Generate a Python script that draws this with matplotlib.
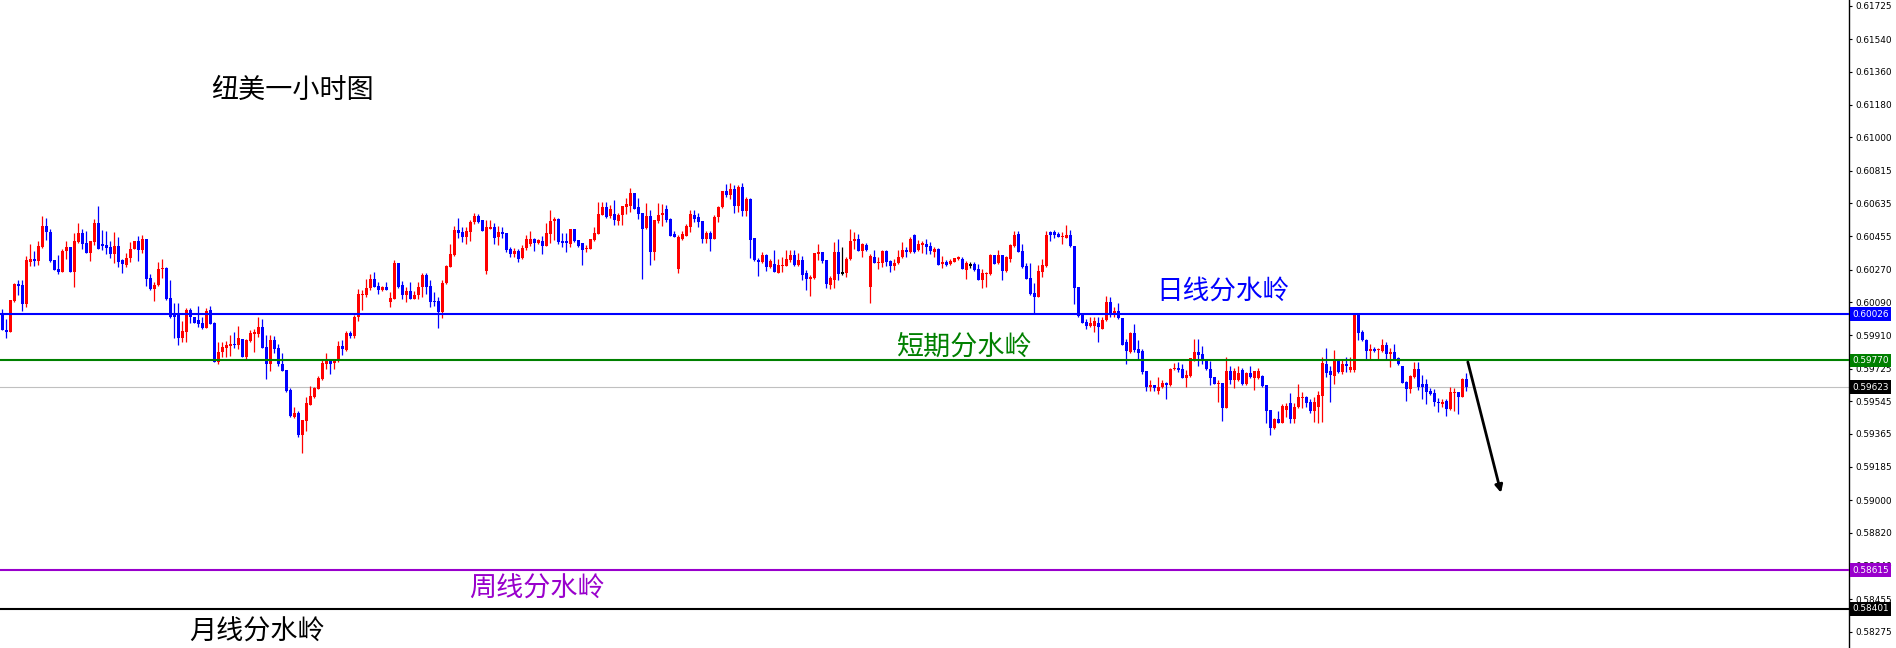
import numpy as np
import matplotlib
matplotlib.use("Agg")
import matplotlib.pyplot as plt

# === Data: NZDUSD H1 candles, prices in points (1e-5) ===

opens = [
    60032, 59938, 59927, 60098, 60192, 60186, 60081, 60313, 60329, 60318,
    60395, 60511, 60478, 60324, 60274, 60258, 60373, 60395, 60258, 60423,
    60472, 60417, 60362, 60423, 60527, 60412, 60406, 60395, 60357, 60401,
    60324, 60296, 60335, 60384, 60428, 60379, 60439, 60225, 60164, 60186,
    60274, 60280, 60115, 60021, 60021, 59894, 59927, 60048, 60010, 59993,
    59977, 59949, 60048, 59977, 59762, 59817, 59839, 59850, 59861, 59856,
    59889, 59790, 59878, 59916, 59916, 59955, 59845, 59751, 59883, 59839,
    59751, 59718, 59608, 59459, 59481, 59360, 59437, 59525, 59570, 59614,
    59669, 59751, 59773, 59757, 59773, 59850, 59828, 59922, 59905, 60010,
    60131, 60131, 60170, 60219, 60181, 60159, 60175, 60092, 60109, 60307,
    60186, 60131, 60153, 60109, 60131, 60175, 60241, 60181, 60098, 60098,
    60037, 60197, 60285, 60351, 60489, 60478, 60450, 60478, 60533, 60566,
    60544, 60263, 60494, 60505, 60450, 60478, 60472, 60384, 60357, 60373,
    60335, 60390, 60412, 60439, 60417, 60428, 60401, 60467, 60538, 60549,
    60428, 60428, 60412, 60494, 60434, 60417, 60384, 60384, 60434, 60467,
    60571, 60615, 60566, 60577, 60538, 60571, 60615, 60621, 60693, 60615,
    60582, 60500, 60566, 60368, 60538, 60571, 60604, 60549, 60467, 60274,
    60439, 60456, 60505, 60571, 60560, 60538, 60439, 60472, 60439, 60560,
    60615, 60704, 60682, 60715, 60621, 60726, 60593, 60660, 60445, 60324,
    60313, 60351, 60285, 60302, 60252, 60291, 60291, 60324, 60351, 60296,
    60324, 60252, 60219, 60225, 60357, 60368, 60324, 60186, 60214, 60368,
    60252, 60252, 60329, 60428, 60439, 60373, 60406, 60175, 60340, 60307,
    60307, 60373, 60318, 60291, 60307, 60340, 60379, 60368, 60461, 60379,
    60406, 60412, 60401, 60368, 60384, 60302, 60313, 60302, 60313, 60329,
    60329, 60269, 60296, 60302, 60274, 60214, 60247, 60247, 60351, 60307,
    60351, 60263, 60329, 60401, 60467, 60373, 60291, 60225, 60142, 60120,
    60258, 60291, 60478, 60478, 60467, 60450, 60445, 60461, 60401, 60175,
    60021, 59982, 59960, 59960, 59977, 59944, 59993, 60092, 60032, 60043,
    60004, 59872, 59817, 59922, 59834, 59823, 59713, 59625, 59636, 59603,
    59625, 59647, 59636, 59724, 59729, 59724, 59674, 59685, 59773, 59817,
    59806, 59773, 59724, 59680, 59641, 59647, 59508, 59713, 59663, 59663,
    59718, 59641, 59702, 59674, 59674, 59685, 59636, 59497, 59398, 59448,
    59426, 59497, 59536, 59448, 59514, 59564, 59570, 59541, 59492, 59514,
    59575, 59751, 59713, 59685, 59773, 59707, 59751, 59718, 59718, 60026,
    59927, 59883, 59823, 59834, 59828, 59823, 59856, 59806, 59817, 59784,
    59740, 59652, 59614, 59680, 59724, 59641, 59641, 59603, 59592, 59541,
    59530, 59547, 59503, 59592, 59597, 59570, 59669,
]
highs = [
    60054, 59999, 60103, 60197, 60214, 60214, 60346, 60412, 60373, 60428,
    60566, 60555, 60494, 60324, 60351, 60384, 60428, 60395, 60472, 60527,
    60494, 60483, 60428, 60549, 60621, 60489, 60483, 60428, 60478, 60450,
    60329, 60362, 60423, 60428, 60456, 60461, 60439, 60247, 60203, 60313,
    60329, 60285, 60214, 60087, 60087, 59988, 60059, 60059, 60010, 60070,
    60010, 60059, 60070, 59982, 59872, 59872, 59878, 59911, 59927, 59960,
    59889, 59889, 59938, 59944, 60010, 59999, 59911, 59911, 59905, 59861,
    59812, 59718, 59619, 59514, 59492, 59442, 59570, 59630, 59625, 59685,
    59779, 59812, 59779, 59779, 59878, 59883, 59933, 59933, 60021, 60164,
    60159, 60219, 60247, 60258, 60203, 60181, 60203, 60148, 60324, 60307,
    60208, 60175, 60203, 60153, 60203, 60252, 60252, 60214, 60148, 60120,
    60214, 60296, 60412, 60511, 60555, 60505, 60505, 60544, 60582, 60577,
    60544, 60544, 60544, 60527, 60511, 60505, 60472, 60395, 60390, 60384,
    60406, 60461, 60483, 60445, 60439, 60456, 60527, 60599, 60560, 60555,
    60472, 60472, 60494, 60494, 60434, 60417, 60406, 60439, 60505, 60643,
    60643, 60643, 60626, 60654, 60582, 60621, 60665, 60720, 60693, 60665,
    60582, 60637, 60599, 60544, 60637, 60632, 60626, 60555, 60483, 60461,
    60483, 60522, 60599, 60599, 60582, 60538, 60483, 60483, 60571, 60621,
    60704, 60742, 60748, 60737, 60737, 60748, 60671, 60665, 60445, 60335,
    60368, 60357, 60329, 60379, 60329, 60340, 60379, 60379, 60379, 60362,
    60346, 60269, 60241, 60362, 60412, 60368, 60324, 60236, 60423, 60439,
    60395, 60340, 60494, 60478, 60467, 60417, 60417, 60357, 60379, 60340,
    60379, 60379, 60324, 60329, 60379, 60423, 60395, 60450, 60467, 60434,
    60428, 60439, 60423, 60395, 60390, 60346, 60324, 60329, 60335, 60346,
    60340, 60318, 60313, 60313, 60302, 60274, 60258, 60357, 60351, 60379,
    60351, 60346, 60412, 60483, 60483, 60412, 60307, 60307, 60197, 60296,
    60329, 60483, 60483, 60489, 60478, 60478, 60516, 60489, 60401, 60175,
    60021, 59999, 60010, 60010, 60010, 60010, 60126, 60120, 60065, 60087,
    60004, 59889, 59927, 59971, 59883, 59834, 59713, 59663, 59636, 59680,
    59663, 59652, 59729, 59757, 59762, 59751, 59718, 59784, 59889, 59889,
    59850, 59779, 59768, 59680, 59663, 59647, 59790, 59740, 59729, 59740,
    59729, 59707, 59740, 59713, 59729, 59691, 59636, 59497, 59453, 59492,
    59530, 59536, 59592, 59536, 59641, 59597, 59575, 59559, 59570, 59603,
    59790, 59839, 59740, 59828, 59779, 59773, 59790, 59790, 60026, 60026,
    59938, 59889, 59861, 59845, 59839, 59889, 59872, 59839, 59861, 59790,
    59740, 59658, 59691, 59762, 59762, 59691, 59669, 59619, 59614, 59564,
    59559, 59559, 59625, 59619, 59597, 59674, 59702,
]
lows = [
    59938, 59894, 59927, 60092, 60131, 60043, 60065, 60291, 60291, 60296,
    60390, 60434, 60313, 60269, 60247, 60258, 60329, 60258, 60175, 60417,
    60384, 60362, 60318, 60406, 60384, 60379, 60357, 60335, 60307, 60285,
    60252, 60285, 60313, 60384, 60318, 60362, 60181, 60159, 60098, 60181,
    60225, 60103, 60004, 59894, 59856, 59872, 59872, 59977, 59977, 59955,
    59944, 59949, 59971, 59762, 59751, 59790, 59790, 59795, 59839, 59834,
    59790, 59779, 59872, 59817, 59900, 59839, 59669, 59713, 59812, 59740,
    59713, 59597, 59459, 59453, 59349, 59261, 59382, 59525, 59564, 59614,
    59663, 59724, 59696, 59724, 59762, 59801, 59823, 59894, 59894, 59988,
    60048, 60120, 60159, 60175, 60137, 60153, 60159, 60065, 60109, 60170,
    60109, 60092, 60109, 60109, 60109, 60120, 60137, 60065, 60070, 59949,
    60004, 60192, 60285, 60346, 60445, 60423, 60412, 60428, 60522, 60527,
    60483, 60247, 60494, 60412, 60406, 60445, 60368, 60340, 60340, 60313,
    60329, 60379, 60401, 60373, 60412, 60357, 60401, 60417, 60434, 60412,
    60395, 60368, 60395, 60423, 60395, 60296, 60368, 60384, 60428, 60467,
    60571, 60555, 60555, 60516, 60516, 60516, 60577, 60588, 60604, 60549,
    60219, 60494, 60296, 60324, 60527, 60511, 60533, 60456, 60450, 60252,
    60434, 60456, 60478, 60533, 60505, 60417, 60417, 60373, 60439, 60533,
    60610, 60671, 60660, 60582, 60588, 60566, 60566, 60335, 60318, 60236,
    60307, 60263, 60280, 60258, 60252, 60258, 60291, 60313, 60291, 60291,
    60214, 60159, 60126, 60219, 60324, 60307, 60170, 60164, 60170, 60214,
    60241, 60230, 60324, 60384, 60373, 60340, 60373, 60087, 60307, 60274,
    60285, 60291, 60258, 60269, 60302, 60335, 60340, 60362, 60362, 60373,
    60362, 60357, 60357, 60340, 60296, 60280, 60291, 60296, 60313, 60324,
    60274, 60219, 60280, 60263, 60214, 60170, 60175, 60241, 60302, 60302,
    60214, 60258, 60313, 60395, 60368, 60280, 60219, 60131, 60026, 60120,
    60230, 60285, 60428, 60445, 60450, 60412, 60445, 60395, 60081, 60010,
    59977, 59944, 59955, 59927, 59872, 59944, 59988, 60010, 60010, 59999,
    59856, 59751, 59812, 59817, 59773, 59696, 59603, 59603, 59603, 59586,
    59619, 59559, 59630, 59718, 59707, 59674, 59625, 59680, 59768, 59740,
    59751, 59718, 59636, 59641, 59541, 59437, 59508, 59641, 59619, 59658,
    59636, 59636, 59674, 59608, 59669, 59625, 59426, 59360, 59393, 59426,
    59426, 59459, 59426, 59426, 59508, 59508, 59514, 59481, 59431, 59426,
    59431, 59680, 59541, 59641, 59702, 59696, 59707, 59707, 59707, 59883,
    59878, 59773, 59773, 59817, 59779, 59817, 59779, 59735, 59773, 59746,
    59647, 59547, 59592, 59674, 59608, 59559, 59530, 59581, 59519, 59486,
    59514, 59464, 59497, 59492, 59475, 59570, 59603,
]
closes = [
    59938, 59927, 60103, 60192, 60181, 60081, 60324, 60329, 60318, 60401,
    60511, 60478, 60318, 60269, 60258, 60373, 60395, 60258, 60428, 60472,
    60412, 60362, 60428, 60527, 60384, 60401, 60390, 60357, 60401, 60313,
    60302, 60335, 60384, 60428, 60379, 60439, 60219, 60164, 60186, 60274,
    60280, 60109, 60010, 60010, 59894, 59933, 60048, 60010, 59977, 59971,
    59949, 60043, 59971, 59762, 59817, 59845, 59856, 59861, 59856, 59894,
    59790, 59883, 59922, 59927, 59955, 59839, 59751, 59883, 59834, 59751,
    59713, 59603, 59464, 59481, 59360, 59442, 59536, 59575, 59619, 59674,
    59757, 59773, 59751, 59779, 59850, 59834, 59922, 59905, 60010, 60137,
    60137, 60170, 60219, 60175, 60159, 60175, 60159, 60115, 60307, 60175,
    60131, 60153, 60109, 60131, 60175, 60241, 60175, 60092, 60092, 60037,
    60197, 60291, 60357, 60489, 60472, 60450, 60483, 60533, 60566, 60533,
    60483, 60505, 60505, 60445, 60478, 60467, 60379, 60357, 60373, 60329,
    60390, 60439, 60439, 60417, 60434, 60401, 60472, 60538, 60549, 60423,
    60417, 60417, 60494, 60428, 60401, 60379, 60390, 60439, 60472, 60577,
    60615, 60560, 60604, 60544, 60571, 60621, 60632, 60693, 60604, 60577,
    60494, 60566, 60368, 60544, 60571, 60582, 60544, 60456, 60450, 60450,
    60467, 60511, 60577, 60549, 60533, 60439, 60472, 60439, 60560, 60615,
    60704, 60682, 60715, 60621, 60726, 60593, 60660, 60434, 60324, 60313,
    60351, 60285, 60318, 60258, 60296, 60296, 60329, 60351, 60296, 60324,
    60241, 60219, 60230, 60362, 60368, 60318, 60192, 60225, 60368, 60247,
    60252, 60329, 60428, 60439, 60373, 60412, 60379, 60346, 60307, 60313,
    60373, 60313, 60291, 60307, 60340, 60379, 60368, 60439, 60368, 60412,
    60417, 60395, 60373, 60384, 60296, 60313, 60296, 60318, 60335, 60340,
    60274, 60307, 60296, 60269, 60214, 60252, 60252, 60351, 60302, 60351,
    60263, 60340, 60406, 60461, 60368, 60285, 60219, 60137, 60120, 60263,
    60296, 60461, 60461, 60461, 60450, 60456, 60461, 60401, 60170, 60015,
    59977, 59960, 59977, 59988, 59955, 59993, 60092, 60032, 60043, 60004,
    59856, 59823, 59922, 59828, 59812, 59707, 59625, 59636, 59619, 59625,
    59647, 59636, 59724, 59729, 59718, 59674, 59691, 59784, 59817, 59801,
    59768, 59724, 59674, 59641, 59647, 59508, 59713, 59663, 59713, 59702,
    59641, 59702, 59680, 59713, 59713, 59630, 59492, 59398, 59448, 59426,
    59519, 59519, 59448, 59514, 59570, 59570, 59536, 59492, 59541, 59581,
    59757, 59702, 59691, 59773, 59707, 59751, 59740, 59735, 60026, 59922,
    59883, 59823, 59834, 59823, 59834, 59856, 59806, 59817, 59779, 59751,
    59647, 59614, 59685, 59724, 59625, 59625, 59597, 59586, 59541, 59536,
    59541, 59503, 59597, 59597, 59570, 59669, 59623,
]

# watershed levels and current bid
daily_level = 0.60026
short_level = 0.59770
bid_price = 0.59623
weekly_level = 0.58615
monthly_level = 0.58401

price_ticks = [0.61725, 0.61540, 0.61360, 0.61180, 0.61000, 0.60815, 0.60635,
               0.60455, 0.60270, 0.60090, 0.59910, 0.59725, 0.59545, 0.59365,
               0.59185, 0.59000, 0.58820, 0.58640, 0.58455, 0.58275]

# forecast arrow (bar index, price)
arrow_from = (366.4, 0.59762)
arrow_to = (374.7, 0.59041)

W, H = 1896, 648
CJK = ["Noto Sans CJK SC", "DejaVu Sans"]

fig = plt.figure(figsize=(W / 100, H / 100), dpi=100)
ax = fig.add_axes([0, 0, 1849 / W, 1])

o = np.array(opens) / 1e5
h = np.array(highs) / 1e5
l = np.array(lows) / 1e5
c = np.array(closes) / 1e5
x = np.arange(len(o))

cols = np.where(c > o, "#FF0000", np.where(c < o, "#0000FF", "#000000"))
body_lo = np.minimum(o, c)
body_h = np.abs(c - o)
tiny = 0.00006
body_lo = np.where(body_h < tiny, body_lo - (tiny - body_h) / 2, body_lo)
body_h = np.maximum(body_h, tiny)

ax.vlines(x, l, h, colors=cols, lw=0.9, zorder=2)
ax.bar(x, body_h, bottom=body_lo, width=0.75, color=cols, lw=0, zorder=2)

# horizontal levels
ax.axhline(bid_price, color="#C0C0C0", lw=0.8, zorder=1)
ax.axhline(daily_level, color="#0000FF", lw=1.5, zorder=3)
ax.axhline(short_level, color="#008000", lw=1.5, zorder=3)
ax.axhline(weekly_level, color="#9900CC", lw=1.5, zorder=3)
ax.axhline(monthly_level, color="#000000", lw=1.5, zorder=3)

ax.annotate("", xy=arrow_to, xytext=arrow_from,
            arrowprops=dict(arrowstyle="-|>", color="black", lw=2.0,
                            mutation_scale=11, shrinkA=0, shrinkB=0))

ax.set_xlim(-0.575, 461.7)
ax.set_ylim(0.58186, 0.61756)

ax.yaxis.tick_right()
ax.set_yticks(price_ticks)
ax.set_yticklabels([f"{v:.5f}" for v in price_ticks])
ax.tick_params(axis="y", direction="out", length=2.5, width=0.8, pad=2,
               labelsize=6.4, colors="black")
ax.set_xticks([])
for side in ["left", "top", "bottom"]:
    ax.spines[side].set_visible(False)
ax.spines["right"].set_linewidth(1.0)

# price tags on the axis
tag_x = 1852 / 1849
for val, fc in [(daily_level, "#0000FF"), (short_level, "#008000"),
                (bid_price, "#000000"), (weekly_level, "#9900CC"),
                (monthly_level, "#000000")]:
    ax.text(tag_x, val, f"{val:.5f}", transform=ax.get_yaxis_transform(),
            ha="left", va="center", color="white", fontsize=6.4, zorder=6,
            clip_on=False,
            bbox=dict(boxstyle="square,pad=0.25", fc=fc, ec="none"))

# annotations
def label(px, py, s, color, size):
    fig.text(px / W, 1 - py / H, s, color=color, fontsize=size,
             ha="left", va="center", family=CJK)

label(211, 90, "纽美一小时图", "black", 19.5)
label(1156, 291, "日线分水岭", "#0000FF", 19.2)
label(896, 347, "短期分水岭", "#008000", 19.5)
label(469, 589, "周线分水岭", "#9900CC", 19.5)
label(189, 632, "月线分水岭", "black", 19.5)

fig.savefig("out.png", dpi=100)
